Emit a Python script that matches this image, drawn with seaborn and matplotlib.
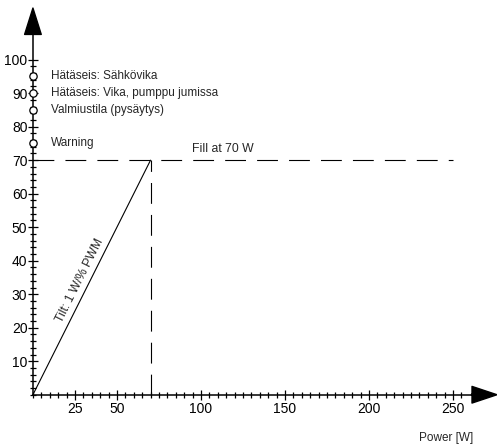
import matplotlib
matplotlib.use("Agg")
import matplotlib.pyplot as plt
import seaborn as sns
from matplotlib.ticker import FixedLocator

# Data
tilt_power = [0, 70]
tilt_level = [0, 70]
fill_power = [0, 250]
fill_level = [70, 70]
fill_drop_power = [70, 70]
fill_drop_level = [0, 70]
marker_levels = [95, 90, 85, 75]
marker_labels = ["Hätäseis: Sähkövika", "Hätäseis: Vika, pumppu jumissa",
                 "Valmiustila (pysäytys)", "Warning"]
x_major = [25, 50, 100, 150, 200, 250]
x_minor = list(range(0, 256, 5))
y_major = list(range(10, 101, 10))
y_minor = list(range(0, 101, 2))

sns.set_theme(style="white")
plt.rcParams["font.family"] = ["Liberation Sans", "DejaVu Sans"]
plt.rcParams["lines.scale_dashes"] = False

fig = plt.figure(figsize=(4.97, 4.46), dpi=100)
ax = fig.add_axes([0, 0, 1, 1])
ax.set_xlim(-19.6, 276.2)
ax.set_ylim(-15.3, 117.8)

sns.lineplot(x=tilt_power, y=tilt_level, color="black", linewidth=0.8, ax=ax)
ax.plot(fill_power, fill_level, color="black", linewidth=0.8, dashes=(15, 8))
ax.plot(fill_drop_power, fill_drop_level, color="black", linewidth=0.8, dashes=(15, 8))
sns.scatterplot(x=[0] * len(marker_levels), y=marker_levels, s=28, facecolor="white",
                edgecolor="black", linewidth=0.9, zorder=5, clip_on=False, ax=ax)

for lvl, lab in zip(marker_levels, marker_labels):
    ax.text(10.7, lvl, lab, ha="left", va="center", fontsize=8.5)
ax.text(94.9, 73.3, "Fill at 70 W", ha="left", va="center", fontsize=8.8)
ax.text(28, 34.2, "Tilt: 1 W/% PWM", ha="center", va="center", fontsize=8.8,
        rotation=63.4, rotation_mode="anchor")
ax.text(262, -12.9, "Power [W]", ha="right", va="center", fontsize=8.5)

# axes through the origin
for side in ["top", "right"]:
    ax.spines[side].set_visible(False)
ax.spines["left"].set_position(("data", 0))
ax.spines["bottom"].set_position(("data", 0))
ax.spines["left"].set_bounds(0, 108)
ax.spines["bottom"].set_bounds(0, 262)
for side in ["left", "bottom"]:
    ax.spines[side].set_color("black")
    ax.spines[side].set_linewidth(1.1)

ax.annotate("", xy=(0, 115.4), xytext=(0, 107.7),
            arrowprops=dict(width=0.5, headwidth=12, headlength=19, shrink=0,
                            facecolor="black", edgecolor="black"))
ax.annotate("", xy=(276.2, 0), xytext=(261, 0), annotation_clip=False,
            arrowprops=dict(width=0.5, headwidth=12, headlength=18, shrink=0,
                            facecolor="black", edgecolor="black"))

ax.xaxis.set_major_locator(FixedLocator(x_major))
ax.xaxis.set_minor_locator(FixedLocator(x_minor))
ax.yaxis.set_major_locator(FixedLocator(y_major))
ax.yaxis.set_minor_locator(FixedLocator(y_minor))
ax.tick_params(which="major", direction="inout", length=7, width=0.9, color="black",
               labelsize=10, labelcolor="black")
ax.tick_params(which="minor", direction="inout", length=4.5, width=0.9, color="black")
ax.tick_params(axis="x", which="major", pad=2)
ax.tick_params(axis="y", which="major", pad=0.5)
ax.tick_params(left=True, bottom=True, which="both")
ax.grid(False)

fig.savefig("out.png", dpi=100)
